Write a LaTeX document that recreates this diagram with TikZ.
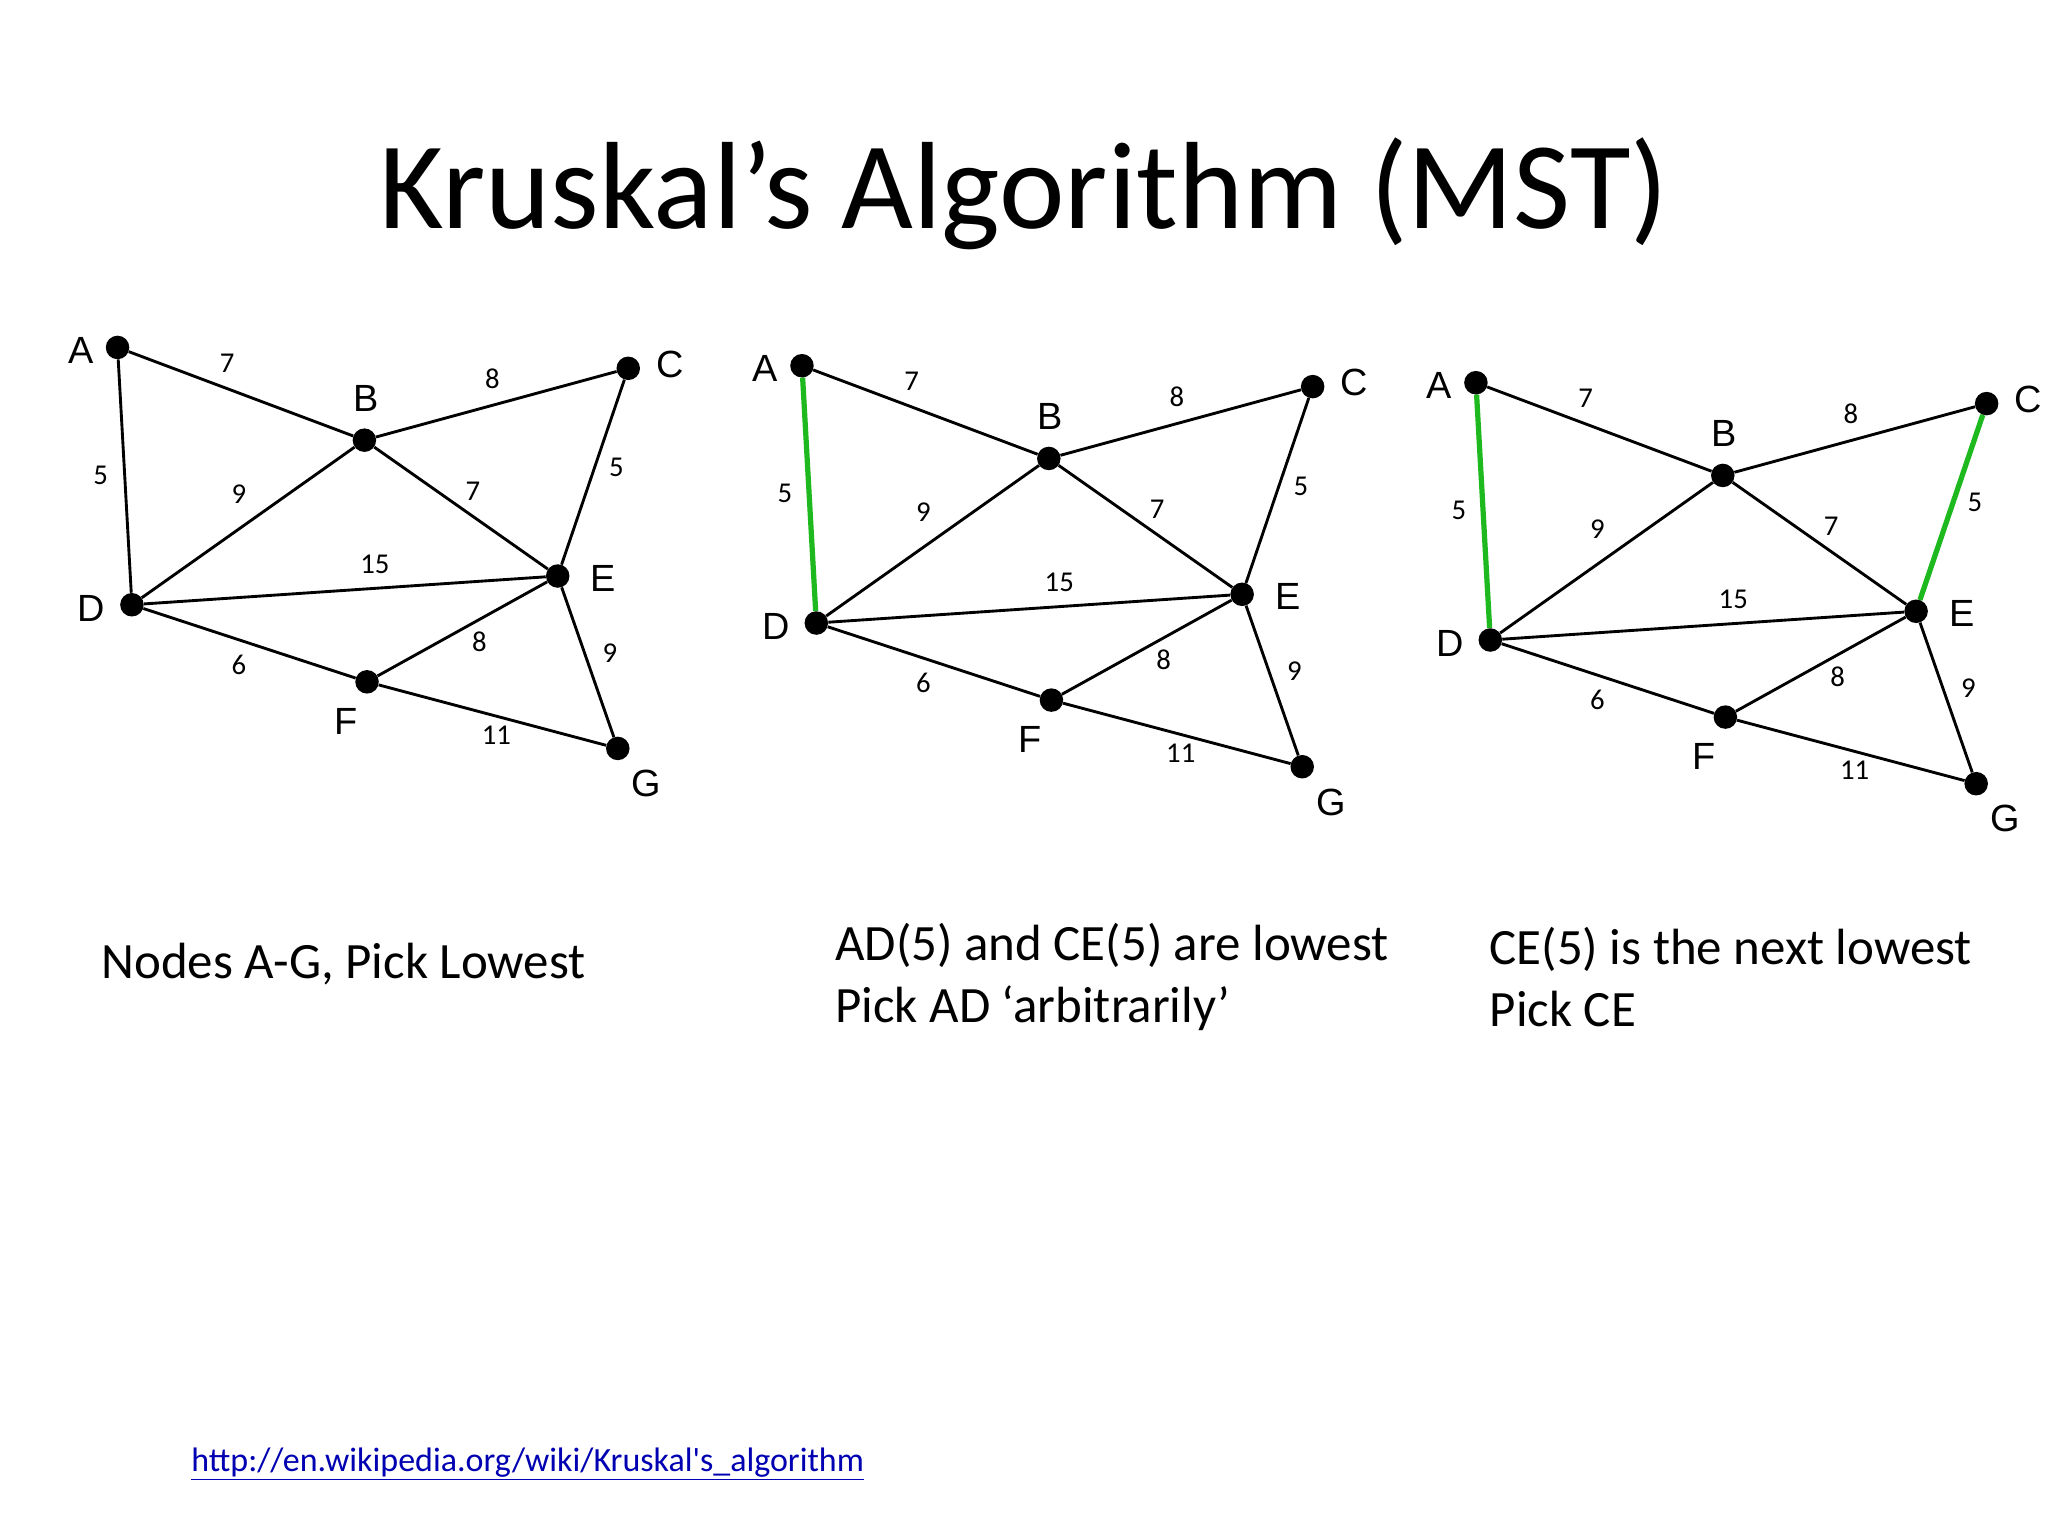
\documentclass[tikz,border=0pt]{standalone}
\usepackage{fontspec}
\setmainfont{Carlito}
\newfontfamily\lblfont{Liberation Sans}
\newfontfamily\urlfont{Carlito}[Mapping=]
\tikzset{
  vtx/.style={circle,fill=black,inner sep=0pt,minimum size=18pt},
  vlbl/.style={font=\lblfont\fontsize{29}{30}\selectfont},
  wt/.style={font=\fontsize{22}{24}\selectfont},
  edge/.style={line width=2.2pt},
  mst/.style={line width=4pt,color=mstgreen},
  body/.style={font=\fontsize{39}{47}\selectfont,anchor=west,align=left}
}
\definecolor{mstgreen}{RGB}{30,185,30}
\newcommand{\kgraph}[4]{%
\begin{scope}[shift={(#2,#3)}]
\node[vtx] (#1A) at (90,266) {};
\node[vtx] (#1B) at (279,337) {};
\node[vtx] (#1C) at (481,282) {};
\node[vtx] (#1D) at (101,463) {};
\node[vtx] (#1E) at (427,441) {};
\node[vtx] (#1F) at (281,522) {};
\node[vtx] (#1G) at (473,573) {};
\draw[edge] (#1A)--(#1B) (#1B)--(#1C) (#1A)--(#1D) (#1B)--(#1D) (#1B)--(#1E)
  (#1D)--(#1E) (#1C)--(#1E) (#1D)--(#1F) (#1E)--(#1F) (#1E)--(#1G) (#1F)--(#1G);
#4
\node[vlbl] (#1la) at (62,268) {A};
\node[vlbl] (#1lb) at (280,305) {B};
\node[vlbl] (#1lc) at (513,279) {C};
\node[vlbl] (#1ld) at (70,466) {D};
\node[vlbl] (#1le) at (462,443) {E};
\node[vlbl] (#1lf) at (265,552) {F};
\node[vlbl] (#1lg) at (495,600) {G};
\node[wt] (#1w1) at (174,278) {7};
\node[wt] (#1w2) at (377,290) {8};
\node[wt] (#1w3) at (77,364) {5};
\node[wt] (#1w4) at (183,378) {9};
\node[wt] (#1w5) at (362,376) {7};
\node[wt] (#1w6) at (287,432) {15};
\node[wt] (#1w7) at (472,358) {5};
\node[wt] (#1w8) at (183,509) {6};
\node[wt] (#1w9) at (367,491) {8};
\node[wt] (#1w10) at (467,500) {9};
\node[wt] (#1w11) at (380,563) {11};
\end{scope}}
\begin{document}
\begin{tikzpicture}[x=1pt,y=-1pt]
\useasboundingbox[fill=white] (0,0) rectangle (1568,1176);
\node[font=\fontsize{95}{110}\selectfont] (title) at (784,148) {Kruskal’s Algorithm (MST)};
\kgraph{g}{0}{0}{}
\kgraph{h}{524}{14}{\draw[mst] (hA)--(hD);}
\kgraph{k}{1040}{27}{\draw[mst] (kA)--(kD); \draw[mst] (kC)--(kE);}
\node[body] (t1) at (74,738) {Nodes A-G, Pick Lowest};
\node[body] (t2) at (636,748) {AD(5) and CE(5) are lowest\\Pick AD ‘arbitrarily’};
\node[body] (t3) at (1137,748) {CE(5) is the next lowest\\Pick CE};
\node[anchor=west,font=\urlfont\fontsize{26}{30}\selectfont,text=blue!70!black] (url) at (143,1121) {\underline{http://en.wikipedia.org/wiki/Kruskal\symbol{39}s\_algorithm}};
\end{tikzpicture}
\end{document}
